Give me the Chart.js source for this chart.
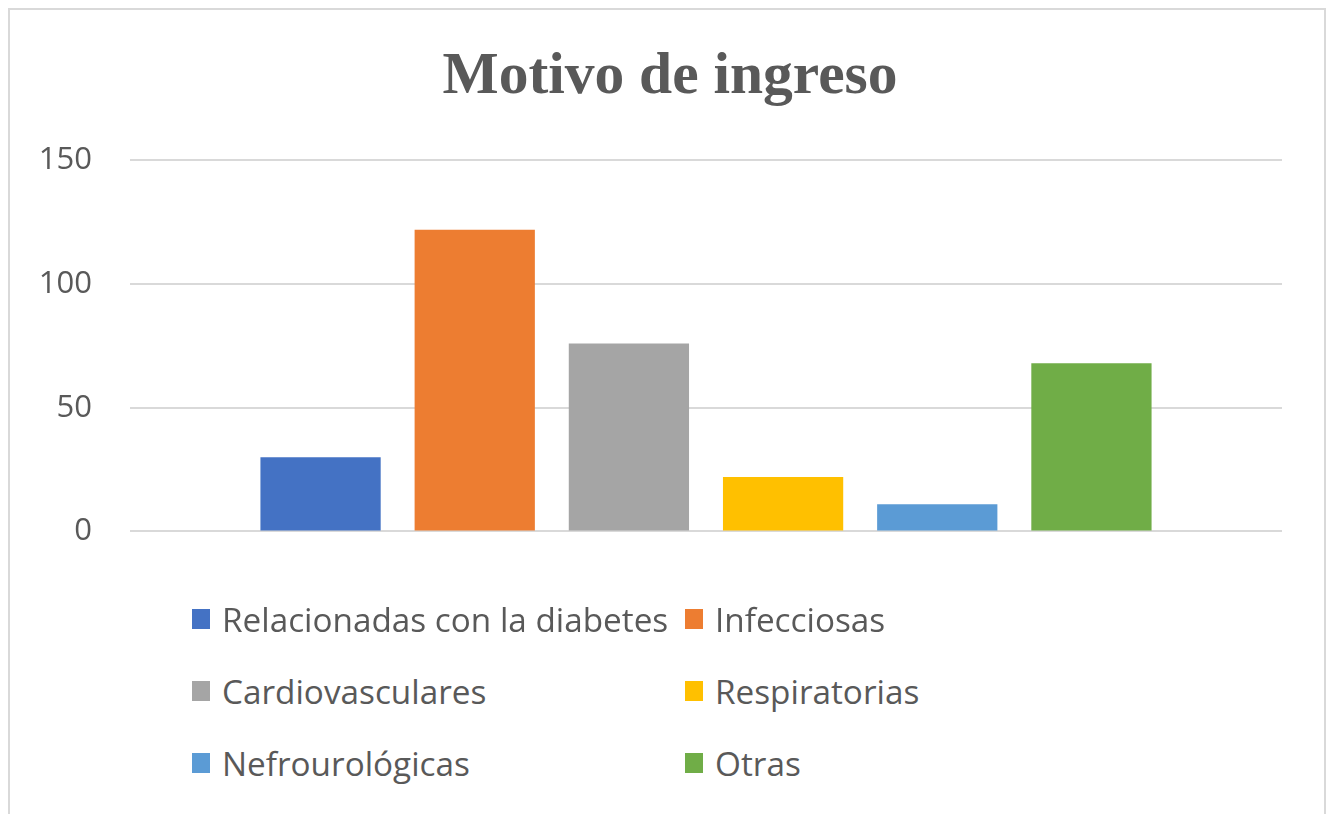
<!DOCTYPE html>
<html lang="es">
<head>
<meta charset="utf-8">
<title>Motivo de ingreso</title>
<script src="https://cdn.jsdelivr.net/npm/chart.js@4/dist/chart.umd.min.js"></script>
<style>
  html, body { margin: 0; padding: 0; background: #fff; }
  body { width: 1330px; height: 814px; position: relative; overflow: hidden; }
  .marco { position: absolute; left: 8px; top: 8px; width: 1318px; height: 830px;
           border: 2px solid #d9d9d9; box-sizing: border-box; pointer-events: none; }
  .lienzo { position: absolute; left: 0; top: 0; width: 1330px; height: 588px; }
  #leyenda { position: absolute; left: 0; top: 583px; width: 1330px;
             font-family: "Open Sans", sans-serif; font-size: 33.3px; color: #595959; }
  #leyenda .item { position: absolute; height: 72px; display: flex; align-items: center; white-space: nowrap; }
  #leyenda .cuadro { width: 18px; height: 20px; margin-right: 12px; flex: none; }
</style>
</head>
<body>
<div class="lienzo"><canvas id="grafico"></canvas></div>
<div id="leyenda"></div>
<div class="marco"></div>
<script>
// Datos
const titulo = 'Motivo de ingreso';
const categorias = ['Relacionadas con la diabetes', 'Infecciosas', 'Cardiovasculares',
                    'Respiratorias', 'Nefrourológicas', 'Otras'];
const valores = [30, 122, 76, 22, 11, 68];
const colores = ['#4472C4', '#ED7D31', '#A5A5A5', '#FFC000', '#5B9BD5', '#70AD47'];
const ticksY = [0, 50, 100, 150];

// Una serie por motivo, todas en la misma categoría (como Excel)
const datasets = categorias.map((nombre, i) => ({
    label: nombre,
    data: [valores[i]],
    backgroundColor: colores[i],
    borderWidth: 0
}));

// El título va centrado algo a la derecha, como en el original
const desplazarTitulo = {
    id: 'desplazarTitulo',
    afterLayout(chart) {
        if (chart.titleBlock) chart.titleBlock.left += 58;
    }
};

const grafico = new Chart(document.getElementById('grafico'), {
    type: 'bar',
    data: { labels: [''], datasets: datasets },
    plugins: [desplazarTitulo],
    options: {
        responsive: true,
        maintainAspectRatio: false,
        animation: false,
        categoryPercentage: 0.803,
        barPercentage: 0.78,
        layout: { padding: { left: 0, right: 48, top: 0, bottom: 30 } },
        plugins: {
            legend: { display: false },
            tooltip: { enabled: false },
            title: {
                display: true,
                text: titulo,
                color: '#595959',
                font: { family: '"Liberation Serif", "Times New Roman", serif', size: 59.5, weight: 'bold', lineHeight: 1.2 },
                padding: { top: 42, bottom: 47 }
            }
        },
        scales: {
            x: { display: false },
            y: {
                min: ticksY[0],
                max: ticksY[ticksY.length - 1],
                afterFit: scale => { scale.width = 130; },
                afterBuildTicks: scale => { scale.ticks = ticksY.map(v => ({ value: v })); },
                border: { display: false },
                grid: { color: '#d9d9d9', lineWidth: 2, drawTicks: false },
                ticks: {
                    color: '#595959',
                    padding: 38,
                    font: { family: '"Open Sans", sans-serif', size: 31 }
                }
            }
        }
    }
});

// Leyenda en dos columnas a partir de los datos del gráfico
const leyenda = document.getElementById('leyenda');
const columnasX = [192, 685];
grafico.data.datasets.forEach((ds, i) => {
    const item = document.createElement('div');
    item.className = 'item';
    item.style.left = columnasX[i % 2] + 'px';
    item.style.top = (Math.floor(i / 2) * 72) + 'px';
    const cuadro = document.createElement('span');
    cuadro.className = 'cuadro';
    cuadro.style.background = ds.backgroundColor;
    const texto = document.createElement('span');
    texto.textContent = ds.label;
    item.appendChild(cuadro);
    item.appendChild(texto);
    leyenda.appendChild(item);
});
</script>
</body>
</html>
